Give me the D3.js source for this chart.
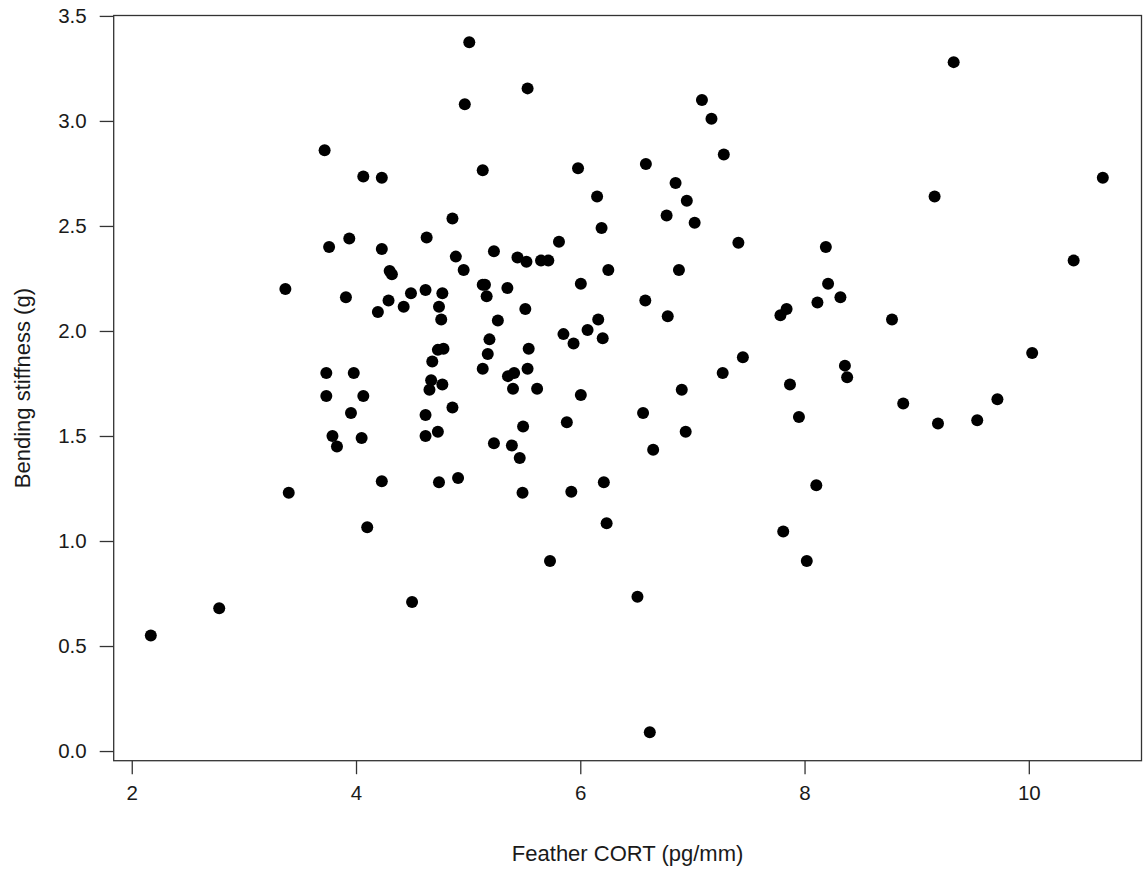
<!DOCTYPE html>
<html>
<head>
<meta charset="utf-8">
<script src="https://cdn.jsdelivr.net/npm/d3@7"></script>
<style>
  html, body { margin: 0; padding: 0; background: #fff; }
  svg { display: block; }
  text { font-family: "Liberation Sans", Arial, sans-serif; }
</style>
</head>
<body>
<svg id="chart" width="1143" height="869"></svg>
<script>
// Feather corticosterone vs. feather bending stiffness, one point per bird
const featherCort = [
  2.17, 2.78, 3.37, 3.40, 3.72, 3.735, 3.735, 3.76, 3.79, 3.83,
  3.91, 3.94, 3.955, 3.98, 4.05, 4.065, 4.065, 4.10, 4.195, 4.23,
  4.23, 4.23, 4.29, 4.30, 4.32, 4.425, 4.49, 4.50, 4.62, 4.63,
  4.62, 4.62, 4.655, 4.67, 4.68, 4.73, 4.73, 4.74, 4.74, 4.76,
  4.77, 4.77, 4.78, 4.86, 4.86, 4.89, 4.91, 4.96, 4.97, 5.01,
  5.13, 5.13, 5.15, 5.165, 5.13, 5.175, 5.19, 5.23, 5.23, 5.265,
  5.35, 5.355, 5.39, 5.40, 5.41, 5.44, 5.46, 5.485, 5.49, 5.51,
  5.52, 5.53, 5.53, 5.54, 5.615, 5.65, 5.715, 5.73, 5.81, 5.85,
  5.88, 5.92, 5.94, 5.98, 6.005, 6.005, 6.065, 6.15, 6.16, 6.19,
  6.20, 6.21, 6.235, 6.25, 6.51, 6.56, 6.58, 6.585, 6.62, 6.65,
  6.77, 6.78, 6.85, 6.88, 6.905, 6.94, 6.95, 7.02, 7.085, 7.17,
  7.27, 7.28, 7.41, 7.45, 7.785, 7.81, 7.84, 7.87, 7.95, 8.02,
  8.105, 8.115, 8.19, 8.21, 8.32, 8.36, 8.38, 8.78, 8.88, 9.16,
  9.19, 9.33, 9.54, 9.72, 10.03, 10.40, 10.66
];

const bendingStiffness = [
  0.55, 0.68, 2.20, 1.23, 2.86, 1.80, 1.69, 2.40, 1.50, 1.45,
  2.16, 2.44, 1.61, 1.80, 1.49, 2.735, 1.69, 1.065, 2.09, 2.73,
  2.39, 1.285, 2.145, 2.285, 2.27, 2.115, 2.18, 0.71, 2.195, 2.445,
  1.60, 1.50, 1.72, 1.765, 1.855, 1.91, 1.52, 2.115, 1.28, 2.055,
  2.18, 1.745, 1.915, 2.535, 1.636, 2.354, 1.30, 2.29, 3.08, 3.375,
  2.765, 2.22, 2.22, 2.165, 1.82, 1.89, 1.96, 2.38, 1.465, 2.05,
  2.205, 1.785, 1.455, 1.725, 1.80, 2.35, 1.395, 1.23, 1.545, 2.105,
  2.33, 3.155, 1.82, 1.915, 1.725, 2.335, 2.335, 0.905, 2.425, 1.985,
  1.565, 1.235, 1.94, 2.775, 2.225, 1.695, 2.005, 2.64, 2.055, 2.49,
  1.965, 1.28, 1.085, 2.29, 0.735, 1.61, 2.145, 2.795, 0.09, 1.435,
  2.55, 2.07, 2.705, 2.29, 1.72, 1.52, 2.62, 2.515, 3.10, 3.01,
  1.80, 2.84, 2.42, 1.875, 2.075, 1.045, 2.105, 1.745, 1.59, 0.905,
  1.265, 2.135, 2.40, 2.225, 2.16, 1.835, 1.78, 2.055, 1.655, 2.64,
  1.56, 3.28, 1.575, 1.675, 1.895, 2.335, 2.73
];

const xTickValues = [2, 4, 6, 8, 10];
const yTickValues = [0, 0.5, 1, 1.5, 2, 2.5, 3, 3.5];
const xTitle = "Feather CORT (pg/mm)";
const yTitle = "Bending stiffness (g)";

const points = featherCort.map((v, i) => ({ x: v, y: bendingStiffness[i] }));

const svg = d3.select("#chart");

// plotting region limits (data units)
const xLim = [1.839, 11.005];
const yLim = [-0.046, 3.502];
const box = { left: 113.7, right: 1141.5, top: 15.5, bottom: 760.7 };

const x = d3.scaleLinear().domain(xLim).range([box.left, box.right]);
const y = d3.scaleLinear().domain(yLim).range([box.bottom, box.top]);

const ink = "#333";
const textInk = "#1a1a1a";
const tickFont = 20.5;
const titleFont = 22;

// x axis
const xAxis = svg.append("g")
  .attr("transform", `translate(0,${box.bottom})`)
  .call(d3.axisBottom(x).tickValues(xTickValues).tickFormat(d3.format("d"))
    .tickSize(13.5).tickPadding(11));
xAxis.select(".domain").remove();
xAxis.selectAll(".tick line").attr("stroke", ink).attr("stroke-width", 1.3);
xAxis.selectAll(".tick text")
  .attr("fill", textInk).attr("font-size", tickFont)
  .attr("font-family", "Liberation Sans, Arial, sans-serif");

// y axis
const yAxis = svg.append("g")
  .attr("transform", `translate(${box.left},0)`)
  .call(d3.axisLeft(y).tickValues(yTickValues).tickFormat(d3.format(".1f"))
    .tickSize(14).tickPadding(13));
yAxis.select(".domain").remove();
yAxis.selectAll(".tick line").attr("stroke", ink).attr("stroke-width", 1.3);
yAxis.selectAll(".tick text")
  .attr("fill", textInk).attr("font-size", tickFont)
  .attr("font-family", "Liberation Sans, Arial, sans-serif");

// plot frame
svg.append("rect")
  .attr("x", box.left).attr("y", box.top)
  .attr("width", box.right - box.left).attr("height", box.bottom - box.top)
  .attr("fill", "none").attr("stroke", ink).attr("stroke-width", 1.3);

// points
svg.append("g")
  .selectAll("circle")
  .data(points)
  .join("circle")
  .attr("cx", d => x(d.x))
  .attr("cy", d => y(d.y))
  .attr("r", 6)
  .attr("fill", "#000");

// axis titles
svg.append("text")
  .attr("x", (box.left + box.right) / 2)
  .attr("y", 853)
  .attr("dy", "0.35em")
  .attr("text-anchor", "middle")
  .attr("font-size", titleFont)
  .attr("fill", textInk)
  .text(xTitle);

svg.append("text")
  .attr("transform", `translate(22,${(box.top + box.bottom) / 2}) rotate(-90)`)
  .attr("dy", "0.35em")
  .attr("text-anchor", "middle")
  .attr("font-size", titleFont)
  .attr("fill", textInk)
  .text(yTitle);
</script>
</body>
</html>
